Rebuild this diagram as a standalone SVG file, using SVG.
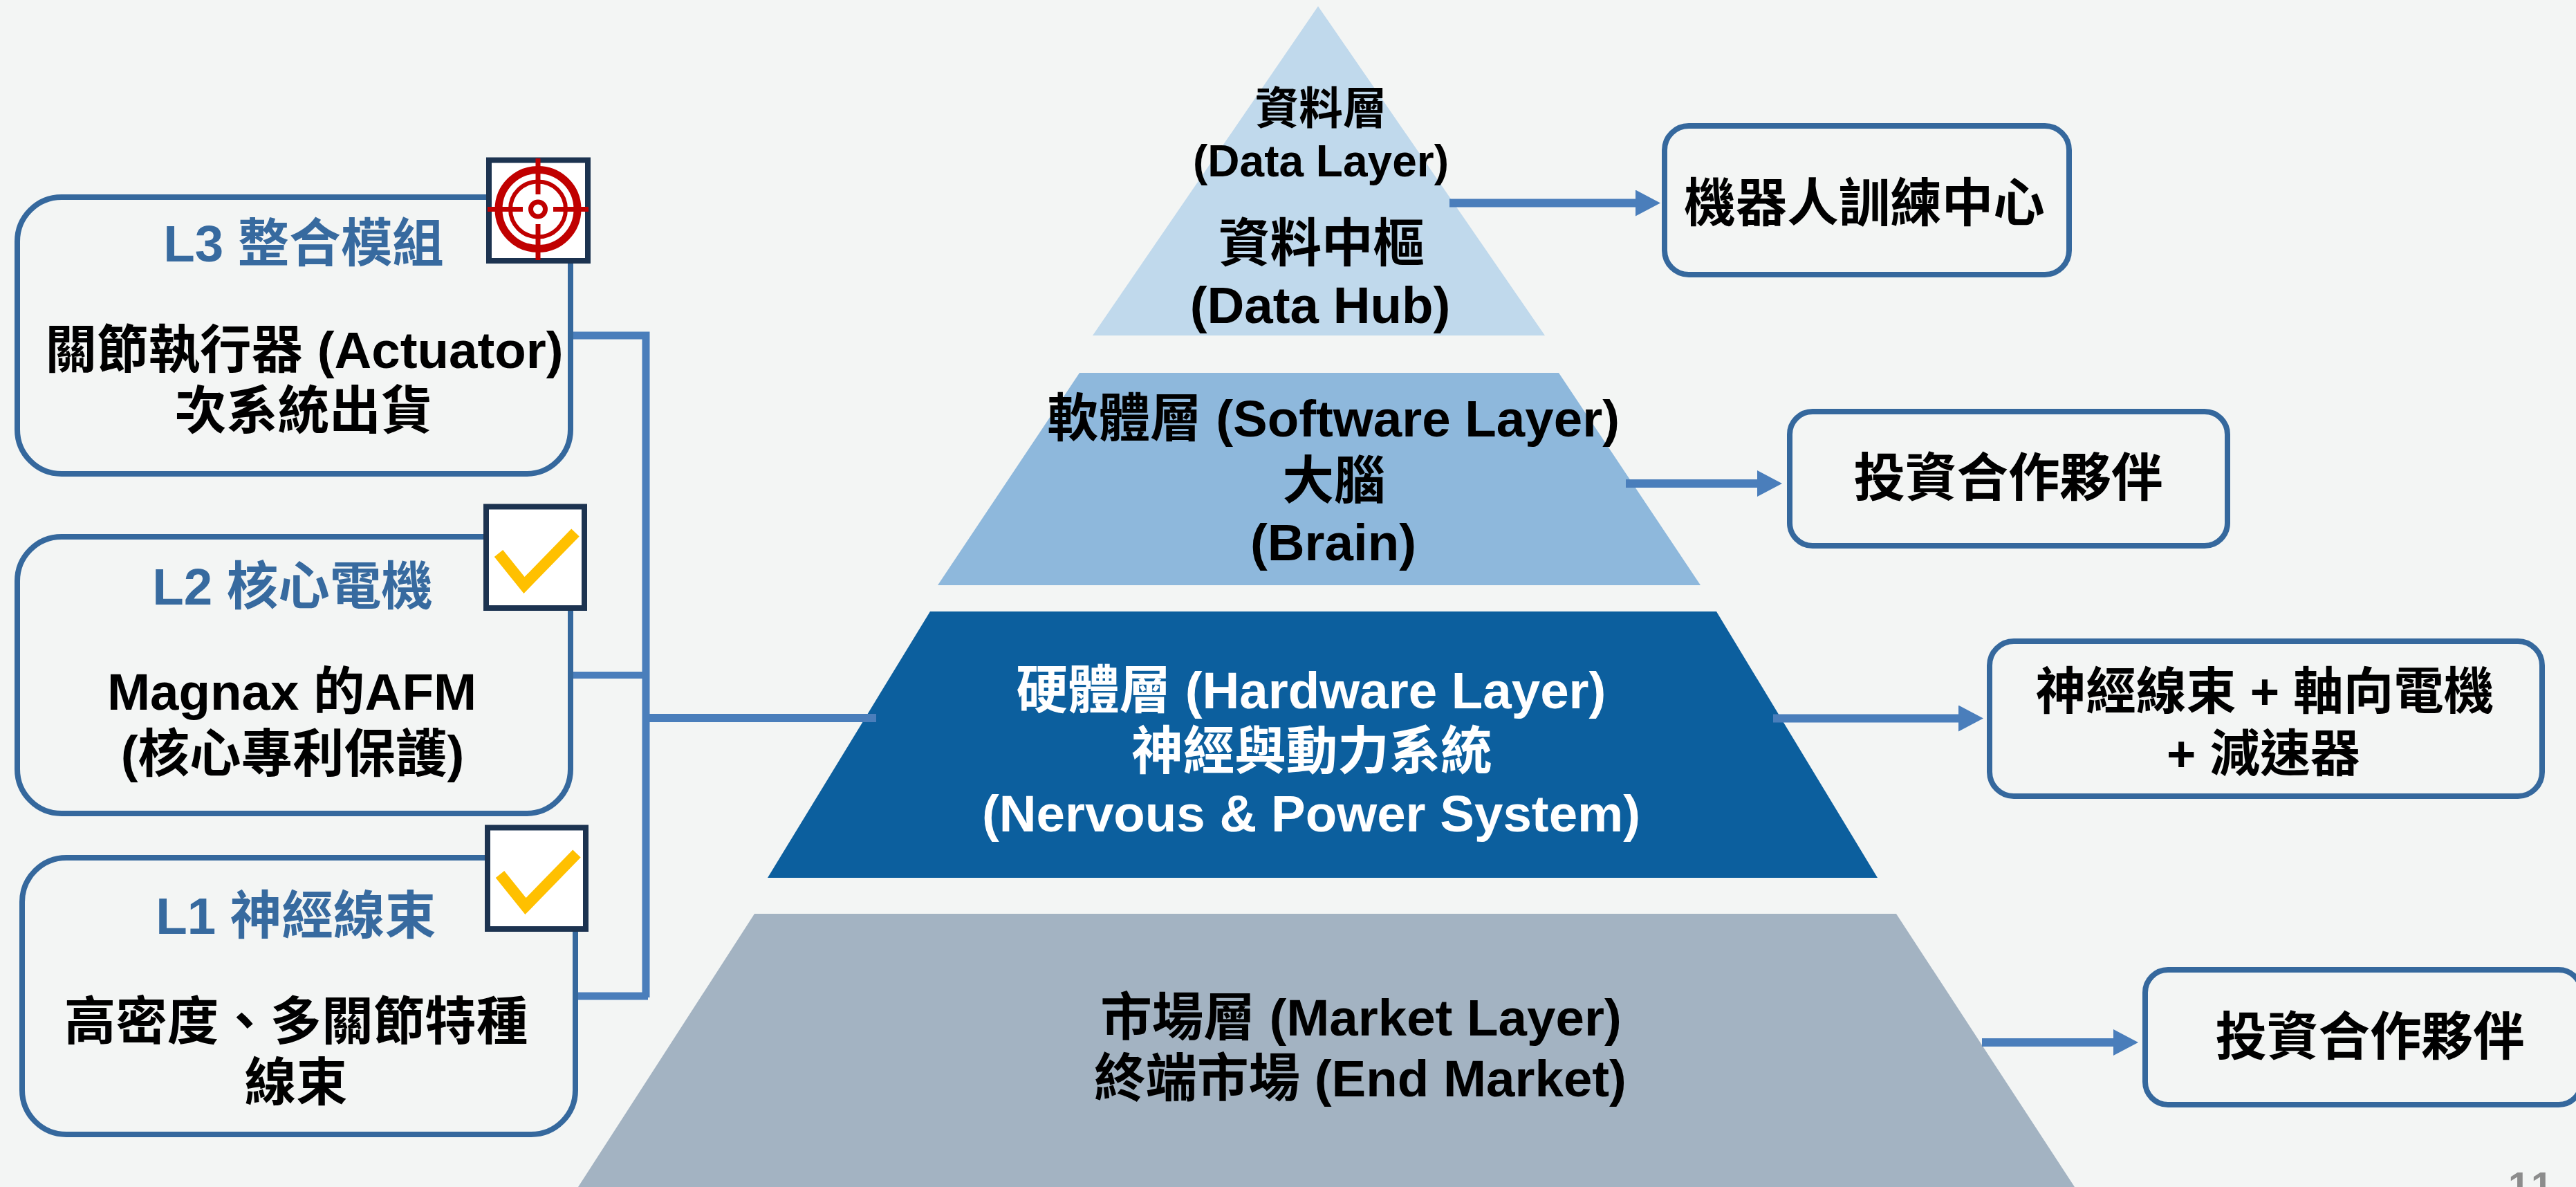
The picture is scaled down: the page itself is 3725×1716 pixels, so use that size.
<svg xmlns="http://www.w3.org/2000/svg" width="3725" height="1716" viewBox="0 0 3725 1716">
<style>
text{font-family:"Liberation Sans","Noto Sans CJK TC",sans-serif;font-weight:700;font-size:74.500px;text-anchor:middle;fill:#000}
.t{fill:#376A9F}
.w{fill:#fff}
.s{font-size:72.500px}
.box{fill:none;stroke:#35689D;stroke-width:8}
.icon{fill:#fff;stroke:#1C3350;stroke-width:8}
.conn{fill:none;stroke:#4A7EBB;stroke-width:12}
.chk{fill:none;stroke:#FFC000;stroke-width:16}
.tg{fill:none;stroke:#C00000}
</style>
<defs>
<marker id="ah" markerUnits="userSpaceOnUse" markerWidth="36" markerHeight="38" refX="0" refY="19" orient="auto"><path d="M0 0L36 19L0 38Z" fill="#4A7EBB"/></marker>
</defs>
<rect width="3725" height="1716" fill="#F3F5F4"/>
<g id="layer-data"><polygon points="1906,9 2234,485 1580,485" fill="#C0D9EC"/></g>
<g id="layer-software"><polygon points="1561,539 2254,539 2459,846 1356,846" fill="#8EB8DC"/></g>
<g id="layer-hardware"><polygon points="1345,884 2482,884 2715,1269 1110,1269" fill="#0C5F9E"/></g>
<g id="layer-market"><polygon points="1091,1321 2742,1321 3000,1716 836,1716" fill="#A3B3C2"/></g>
<g id="connectors">
<path class="conn" d="M825 485H934V1442" style="stroke-width:11"/>
<path class="conn" d="M829 976H934" style="stroke-width:10"/>
<path class="conn" d="M835 1440H937" style="stroke-width:11"/>
<path class="conn" d="M934 1038H1267"/>
<path class="conn" d="M2096 293.500H2365" marker-end="url(#ah)"/>
<path class="conn" d="M2351 699H2541" marker-end="url(#ah)"/>
<path class="conn" d="M2564 1038.500H2832" marker-end="url(#ah)"/>
<path class="conn" d="M2866 1507H3056" marker-end="url(#ah)"/>
</g>
<g id="node-l3">
<rect class="box" x="25" y="285" width="800" height="400" rx="64"/>
<rect class="icon" x="707" y="231.500" width="143" height="145.500"/>
<g class="tg"><circle cx="778" cy="302.500" r="57" stroke-width="11"/><circle cx="778" cy="302.500" r="40" stroke-width="6"/><circle cx="778" cy="302.500" r="10.500" stroke-width="7"/><path stroke-width="7" d="M705 302.500H756M800 302.500H851M778 229V281M778 324V376"/></g>
<text class="t" x="439" y="378">L3 整合模組</text>
<text x="440" y="532">關節執行器 (Actuator)</text>
<text x="439" y="620">次系統出貨</text>
</g>
<g id="node-l2">
<rect class="box" x="25" y="776" width="800" height="400" rx="64"/>
<rect class="icon" x="703" y="732.500" width="142" height="146.500"/>
<path class="chk" d="M721 800L758 846L832 770"/>
<text class="t" x="423" y="874">L2 核心電機</text>
<text x="422" y="1026">Magnax 的AFM</text>
<text x="423" y="1116">(核心專利保護)</text>
</g>
<g id="node-l1">
<rect class="box" x="32" y="1240" width="800" height="400" rx="64"/>
<rect class="icon" x="705" y="1196.500" width="142" height="146.500"/>
<path class="chk" d="M723 1264L760 1310L834 1234"/>
<text class="t" x="428" y="1350">L1 神經線束</text>
<text x="428" y="1503">高密度、多關節特種</text>
<text x="428" y="1591">線束</text>
</g>
<g id="label-data">
<text x="1910" y="179" style="font-size:63.500px">資料層</text>
<text x="1910" y="255" style="font-size:64px">(Data Layer)</text>
<text x="1911" y="378">資料中樞</text>
<text x="1909" y="467">(Data Hub)</text>
</g>
<g id="label-software">
<text x="1928" y="631">軟體層 (Software Layer)</text>
<text x="1929" y="721">大腦</text>
<text x="1928" y="810">(Brain)</text>
</g>
<g id="label-hardware">
<text class="w" x="1896" y="1024">硬體層 (Hardware Layer)</text>
<text class="w" x="1897" y="1112">神經與動力系統</text>
<text class="w" x="1896" y="1202">(Nervous &amp; Power System)</text>
</g>
<g id="label-market">
<text x="1968" y="1497">市場層 (Market Layer)</text>
<text x="1967" y="1585">終端市場 (End Market)</text>
</g>
<g id="node-training">
<rect class="box" x="2407" y="182" width="585" height="215" rx="35"/>
<text x="2696" y="320">機器人訓練中心</text>
</g>
<g id="node-partner-a">
<rect class="box" x="2588" y="595" width="633" height="194" rx="33"/>
<text x="2904" y="717">投資合作夥伴</text>
</g>
<g id="node-parts">
<rect class="box" x="2877" y="927" width="799" height="224" rx="35"/>
<text class="s" x="3275" y="1025">神經線束 + 軸向電機</text>
<text class="s" x="3273" y="1115">+ 減速器</text>
</g>
<g id="node-partner-b">
<rect class="box" x="3102" y="1402" width="631" height="195" rx="33"/>
<text x="3427" y="1525">投資合作夥伴</text>
</g>
<text x="3627" y="1733" style="font-size:56px;letter-spacing:5px;text-anchor:start;fill:#8C8C8C">11</text>
</svg>
